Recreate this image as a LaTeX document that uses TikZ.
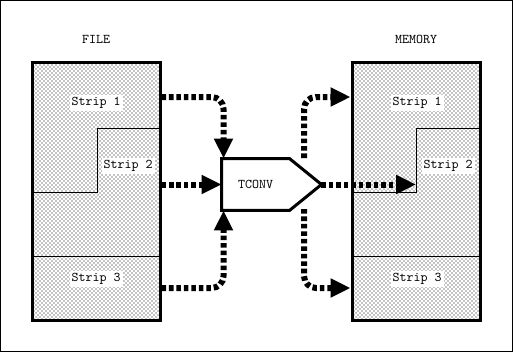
\documentclass[tikz,border=0pt]{standalone}
\usepackage{tikz}
\usetikzlibrary{arrows.meta,calc,patterns}
\tikzset{%
  membox/.style={%
    draw,
    line width=2.25pt,
    pattern=crosshatch dots,
    minimum width=96pt,
    minimum height=192.75pt,
    inner sep=0pt
  },
  striplabel/.style={fill=white,inner sep=1.5pt,font=\ttfamily},
  titlelabel/.style={font=\ttfamily},
  stripline/.style={line width=0.75pt},
  flowarrow/.style={%
    line width=4.5pt,
    dash pattern=on 3.4pt off 2.2pt,
    rounded corners=9pt,
    -{Triangle[length=15pt,width=13.5pt]}
  }
}

\begin{document}
\begin{tikzpicture}[x=0.75pt,y=-0.75pt]
  \useasboundingbox (0,0) rectangle (513,353);
  \draw[line width=0.75pt] (0.5,0.5) rectangle (512,351.5);

  \node[titlelabel] (filetitle) at (96,39) {FILE};
  \node[titlelabel] (memtitle) at (416,39) {MEMORY};

  \node[membox] (file) at (96,191.5) {};
  \node[membox] (memory) at (416,191.5) {};

  % strip boundaries
  \draw[stripline] (32,192) -- (97,192) -- (97,128) -- (160,128);
  \draw[stripline] (32,256) -- (160,256);
  \draw[stripline] (352,192) -- (416,192) -- (416,128) -- (480,128);
  \draw[stripline] (352,256) -- (480,256);

  \node[striplabel] (fs1) at (96,103) {Strip 1};
  \node[striplabel] (fs2) at (128,166) {Strip 2};
  \node[striplabel] (fs3) at (96,279) {Strip 3};
  \node[striplabel] (ms1) at (417,103) {Strip 1};
  \node[striplabel] (ms2) at (448,166) {Strip 2};
  \node[striplabel] (ms3) at (417,279) {Strip 3};

  % converter
  \node[titlelabel,minimum width=48.75pt,minimum height=36.75pt,inner sep=0pt,outer sep=1.1pt] (tconv) at (255.5,184.5) {TCONV};
  \draw[line width=2.25pt,line join=miter] (tconv.north west) -- (tconv.north east)
    -- ($(tconv.east)+(32,0)$) coordinate (tconvtip) -- (tconv.south east) -- (tconv.south west) -- cycle;

  \coordinate (f1) at (file.east |- 0,97);
  \coordinate (f2) at (file.east |- tconv.west);
  \coordinate (f3) at (file.east |- 0,288);
  \coordinate (m1) at (memory.west |- f1);
  \coordinate (m2) at (416,184.5);
  \coordinate (m3) at (memory.west |- f3);
  \coordinate (o1) at (304,158);
  \coordinate (o3) at (304,209);

  \draw[flowarrow] (f1) -| ([xshift=1.5pt]tconv.north west);
  \draw[flowarrow] (f2) -- (tconv.west);
  \draw[flowarrow] (f3) -| ([xshift=1.5pt]tconv.south west);
  \draw[flowarrow] (o1) |- (m1);
  \draw[flowarrow] (tconvtip) -- (m2);
  \draw[flowarrow] (o3) |- (m3);
\end{tikzpicture}
\end{document}
